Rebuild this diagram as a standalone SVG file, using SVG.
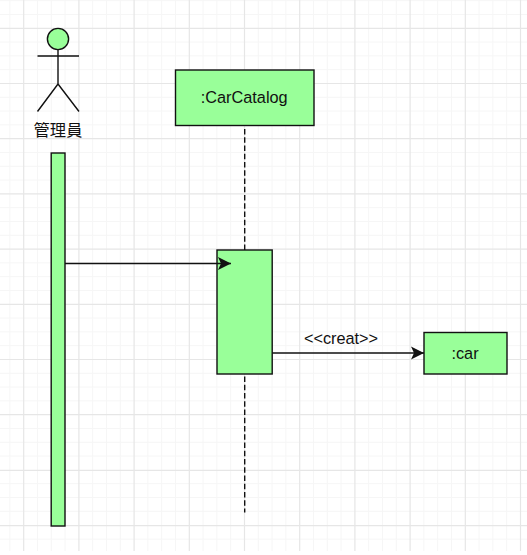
<svg xmlns="http://www.w3.org/2000/svg" width="527" height="555" viewBox="0 0 527 555">
<style>
.minor{stroke:#f6f6f6;stroke-width:1;fill:none}
.major{stroke:#e6e6e6;stroke-width:1.2;fill:none}
.box{fill:#99ff99;stroke:#111;stroke-width:1.4}
.line{stroke:#111;stroke-width:1.4;fill:none}
.dash{stroke:#111;stroke-width:1.4;fill:none;stroke-dasharray:5.4 2.85}
text{font-family:"Liberation Sans","Noto Sans CJK TC",Arial,sans-serif;font-size:16.3px;fill:#111;text-anchor:middle}
</style>
<defs>
<marker id="arrow" markerUnits="userSpaceOnUse" markerWidth="14" markerHeight="14" refX="13" refY="7" orient="auto">
<path d="M0 0.6 L13 7 L0 13.4 L3 7 Z" fill="#111"/>
</marker>
</defs>
<rect width="527" height="555" fill="#fff"/>
<g id="grid">
<path class="minor" d="M9.9 0V551M37.5 0V551M51.3 0V551M65.1 0V551M92.7 0V551M106.5 0V551M120.3 0V551M147.9 0V551M161.7 0V551M175.5 0V551M203.1 0V551M216.9 0V551M230.7 0V551M258.3 0V551M272.1 0V551M285.9 0V551M313.5 0V551M327.3 0V551M341.1 0V551M368.7 0V551M382.5 0V551M396.3 0V551M423.9 0V551M437.7 0V551M451.5 0V551M479.1 0V551M492.9 0V551M506.7 0V551"/>
<path class="minor" d="M0 .7H527M0 14.5H527M0 42.1H527M0 55.9H527M0 69.7H527M0 97.3H527M0 111.1H527M0 124.9H527M0 152.5H527M0 166.3H527M0 180.1H527M0 207.7H527M0 221.5H527M0 235.3H527M0 262.9H527M0 276.7H527M0 290.5H527M0 318.1H527M0 331.9H527M0 345.7H527M0 373.3H527M0 387.1H527M0 400.9H527M0 428.5H527M0 442.3H527M0 456.1H527M0 483.7H527M0 497.5H527M0 511.3H527M0 539.2H527"/>
<path class="major" d="M23.7 0V551M78.9 0V551M134.1 0V551M189.3 0V551M244.5 0V551M299.7 0V551M354.9 0V551M410.1 0V551M465.3 0V551M520.5 0V551"/>
<path class="major" d="M0 28.3H527M0 83.5H527M0 138.7H527M0 193.9H527M0 249.1H527M0 304.3H527M0 359.5H527M0 414.7H527M0 470.4H527M0 525.7H527"/>
</g>
<g id="connectors">
<path id="lifeline" class="dash" d="M244.7 129V512.5"/>
</g>
<g id="actor">
<circle class="box" cx="58" cy="39" r="10.6"/>
<path class="line" d="M58 50V84M37.5 56H79M37.5 111.5L58 84L79 111.5"/>
<text x="58" y="136">管理員</text>
</g>
<g id="actor-activation"><rect class="box" x="51.2" y="153" width="13.8" height="373"/></g>
<g id="carcatalog">
<rect class="box" x="175.5" y="70" width="138.5" height="55.5"/>
<text x="244.2" y="102.5">:CarCatalog</text>
</g>
<g id="carcatalog-activation"><rect class="box" x="217" y="250" width="55.2" height="124"/></g>
<g id="car">
<rect class="box" x="424" y="332.5" width="83" height="41.5"/>
<text x="465" y="358.5">:car</text>
</g>
<g id="messages">
<path id="msg1" class="line" d="M65 263.5H231" marker-end="url(#arrow)"/>
<path id="msg2" class="line" d="M272.2 353H424" marker-end="url(#arrow)"/>
<text x="341" y="344">&lt;&lt;creat&gt;&gt;</text>
</g>
</svg>
